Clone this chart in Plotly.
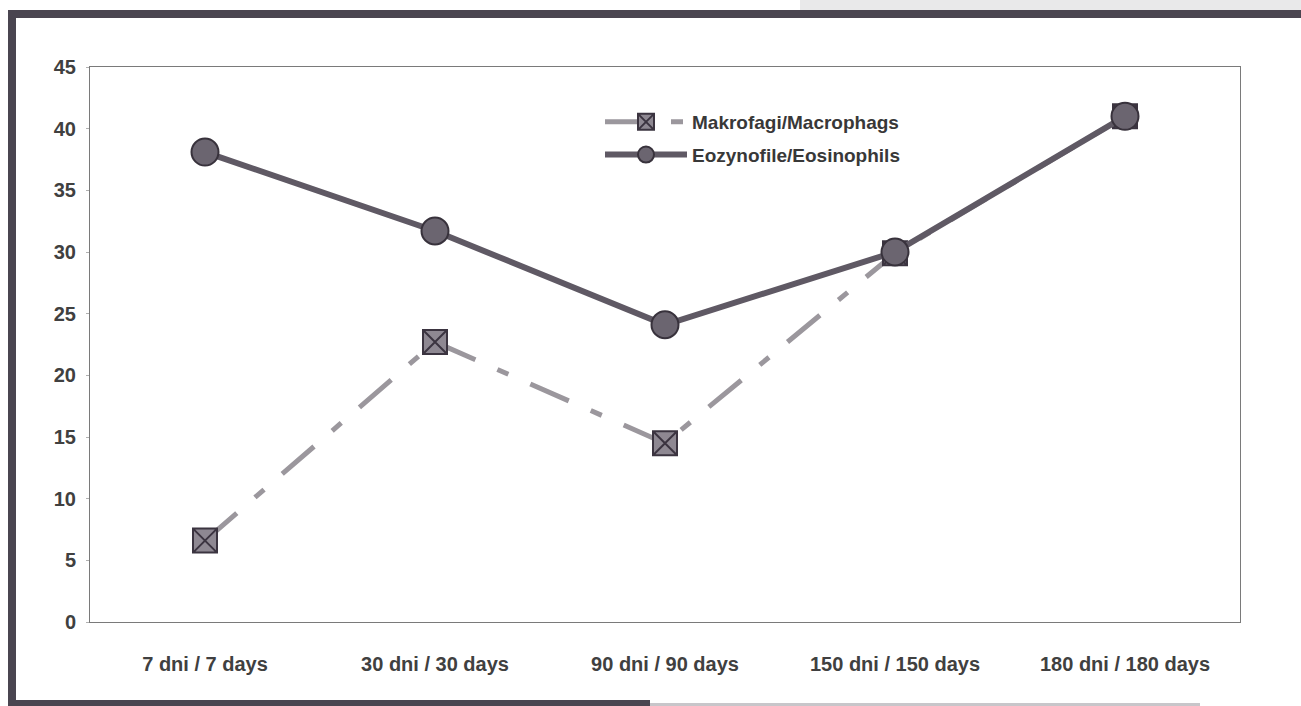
import plotly.graph_objects as go

# Observation time points
categories = ["7 dni / 7 days", "30 dni / 30 days", "90 dni / 90 days",
              "150 dni / 150 days", "180 dni / 180 days"]

# Cell counts per time point
macrophages = [6.6, 22.7, 14.5, 29.9, 41.0]
eosinophils = [38.1, 31.7, 24.1, 30.0, 41.0]

y_ticks = [0, 5, 10, 15, 20, 25, 30, 35, 40, 45]

W, H = 1301, 706
ML, MR, MT, MB = 90, 61, 67, 84
PW, PH = W - ML - MR, H - MT - MB


def px_x(p):
    return (p - ML) / PW


def px_y(p):
    return (H - MB - p) / PH


fig = go.Figure()

fig.add_trace(go.Scatter(
    x=categories, y=macrophages, name="Makrofagi/Macrophags",
    legendgroup="mac", mode="lines+markers",
    line=dict(color="#9b979d", width=5, dash="42px,24px,12px,24px"),
    marker=dict(symbol="square-x", size=24, color="#8e8892",
                line=dict(color="#3b3440", width=2)),
))

fig.add_trace(go.Scatter(
    x=categories, y=eosinophils, name="Eozynofile/Eosinophils",
    legendgroup="eos", mode="lines+markers",
    line=dict(color="#5f5964", width=6),
    marker=dict(symbol="circle", size=27, color="#6b6570",
                line=dict(color="#38323c", width=2)),
))

# Dark scanned page frame around the chart
frame = "#4a4550"
shapes = [
    dict(type="rect", xref="paper", yref="paper",
         x0=px_x(8), x1=px_x(1301), y0=px_y(18), y1=px_y(10),
         fillcolor=frame, line=dict(width=0), layer="above"),
    dict(type="rect", xref="paper", yref="paper",
         x0=px_x(8), x1=px_x(16), y0=px_y(706), y1=px_y(10),
         fillcolor=frame, line=dict(width=0), layer="above"),
    dict(type="rect", xref="paper", yref="paper",
         x0=px_x(8), x1=px_x(650), y0=px_y(706), y1=px_y(700),
         fillcolor=frame, line=dict(width=0), layer="above"),
    dict(type="rect", xref="paper", yref="paper",
         x0=px_x(650), x1=px_x(1200), y0=px_y(706), y1=px_y(703),
         fillcolor="#c8c6ca", line=dict(width=0), layer="above"),
    dict(type="rect", xref="paper", yref="paper",
         x0=px_x(800), x1=px_x(1301), y0=px_y(10), y1=px_y(0),
         fillcolor="#e9e9ea", line=dict(width=0), layer="above"),
]

label_font = "Liberation Sans, Arial, sans-serif"

fig.update_layout(
    width=W, height=H,
    margin=dict(l=ML, r=MR, t=MT, b=MB),
    paper_bgcolor="white", plot_bgcolor="white",
    showlegend=True,
    legend=dict(
        x=px_x(600), y=px_y(103), xanchor="left", yanchor="top",
        bgcolor="rgba(255,255,255,0.95)", borderwidth=0,
        font=dict(family=label_font, size=19, color="#383838", weight="bold"),
        itemwidth=82, traceorder="grouped", tracegroupgap=5,
    ),
    shapes=shapes,
    xaxis=dict(
        type="category", categoryorder="array", categoryarray=categories,
        range=[-0.5, 4.5], showgrid=False, zeroline=False,
        showline=True, linecolor="#7a7a7a", linewidth=1, mirror=True,
        ticks="", ticklabelstandoff=24,
        tickfont=dict(family=label_font, size=20, color="#404040", weight="bold"),
    ),
    yaxis=dict(
        range=[0, 45], tickvals=y_ticks, showgrid=False, zeroline=False,
        showline=True, linecolor="#7a7a7a", linewidth=1, mirror=True,
        ticks="outside", ticklen=3, tickcolor="#b0b0b0", ticklabelstandoff=6,
        tickfont=dict(family=label_font, size=20, color="#404040", weight="bold"),
    ),
)

fig.write_html("out.html")
